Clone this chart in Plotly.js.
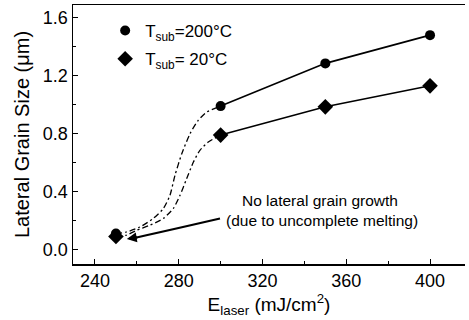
<!DOCTYPE html>
<html>
<head>
<meta charset="utf-8">
<script src="https://cdn.plot.ly/plotly-3.0.1.min.js"></script>
<style>html,body{margin:0;padding:0;background:#fff}#chart{width:469px;height:320px}</style>
</head>
<body>
<div id="chart"></div>
<script>
// Data
const energy = [250, 300, 350, 400];
const size200 = [0.11, 0.99, 1.285, 1.48];
const size20 = [0.09, 0.79, 0.985, 1.13];
// dash-dot guide curves (250 -> 300)
const guide200X = [250, 255.1, 261.5, 267.8, 272.6, 275.8, 278.2, 281.4, 285.4, 289.3, 293.4, 300];
const guide200Y = [0.11, 0.121, 0.156, 0.214, 0.282, 0.374, 0.512, 0.66, 0.80, 0.892, 0.949, 0.99];
const guide20X = [250, 255.1, 259.9, 266.3, 272.6, 277.4, 280.6, 283.8, 287, 290.1, 294.1, 300];
const guide20Y = [0.09, 0.099, 0.133, 0.168, 0.214, 0.283, 0.374, 0.49, 0.604, 0.685, 0.742, 0.79];
const legendNames = ['T<sub>sub</sub>=200°C', 'T<sub>sub</sub>= 20°C'];
const xTicks = [240, 280, 320, 360, 400];
const yTicks = [0.0, 0.4, 0.8, 1.2, 1.6];
const noteLines = ['No lateral grain growth', '(due to uncomplete melting)'];

const FONT = 'Liberation Sans, Arial, Helvetica, sans-serif';
const DASH = '6px,3px,2px,3px';

const traces = [
  {x: guide200X, y: guide200Y, mode: 'lines', line: {color: '#000', width: 1.3, dash: DASH, shape: 'spline', smoothing: 0.6}, showlegend: false, hoverinfo: 'skip'},
  {x: guide20X, y: guide20Y, mode: 'lines', line: {color: '#000', width: 1.3, dash: DASH, shape: 'spline', smoothing: 0.6}, showlegend: false, hoverinfo: 'skip'},
  {x: energy.slice(1), y: size200.slice(1), mode: 'lines', line: {color: '#000', width: 1.6}, showlegend: false},
  {x: energy.slice(1), y: size20.slice(1), mode: 'lines', line: {color: '#000', width: 1.6}, showlegend: false},
  {x: energy, y: size200, mode: 'markers', name: legendNames[0], legendgroup: 'a', marker: {symbol: 'circle', size: 10, color: '#000'}},
  {x: energy, y: size20, mode: 'markers', name: legendNames[1], legendgroup: 'b', marker: {symbol: 'diamond', size: 12, color: '#000'}}
];

const layout = {
  width: 469, height: 320,
  margin: {l: 73, r: 4, t: 5, b: 56},
  paper_bgcolor: '#fff', plot_bgcolor: '#fff',
  font: {family: FONT, color: '#000', size: 18},
  showlegend: true,
  legend: {x: 0.082, y: 0.969, xanchor: 'left', yanchor: 'top', bgcolor: 'rgba(0,0,0,0)', font: {size: 17, family: FONT, color: '#000'}, tracegroupgap: 3, itemwidth: 30},
  xaxis: {
    range: [229.5, 416.7], tickvals: xTicks, ticktext: xTicks.map(String),
    ticks: 'inside', ticklen: 5, tickcolor: '#000', tickwidth: 1,
    minor: {ticks: 'inside', ticklen: 3, dtick: 20, tick0: 240, tickcolor: '#000'},
    showline: true, linecolor: '#000', linewidth: 1.5, mirror: true,
    showgrid: false, zeroline: false,
    tickfont: {size: 18, family: FONT, color: '#000'},
    title: {text: 'E<sub>laser</sub> (mJ/cm<sup>2</sup>)', font: {size: 19, family: FONT, color: '#000'}, standoff: 4}
  },
  yaxis: {
    range: [-0.1, 1.688], tickvals: yTicks, ticktext: yTicks.map(v => v.toFixed(1)),
    ticks: 'inside', ticklen: 5, tickcolor: '#000', tickwidth: 1,
    minor: {ticks: 'inside', ticklen: 3, dtick: 0.2, tick0: 0, tickcolor: '#000'},
    showline: true, linecolor: '#000', linewidth: 1.5, mirror: false,
    showgrid: false, zeroline: false,
    tickfont: {size: 18, family: FONT, color: '#000'},
    title: {text: 'Lateral Grain Size (μm)', font: {size: 20, family: FONT, color: '#000'}, standoff: 8}
  },
  shapes: [
    {type: 'path', xref: 'x', yref: 'y', path: 'M299.7,0.214 Q270,0.115 257.5,0.076', line: {color: '#000', width: 2.2}}
  ],
  annotations: [
    {x: 255.2, y: 0.072, xref: 'x', yref: 'y', ax: 12, ay: -2, showarrow: true, arrowhead: 2, arrowsize: 0.9, arrowwidth: 2.2, arrowcolor: '#000', text: ''},
    {x: 347.5, y: 0.34, xref: 'x', yref: 'y', text: noteLines[0], showarrow: false, font: {size: 15.5, family: FONT, color: '#000'}, xanchor: 'center'},
    {x: 348.6, y: 0.202, xref: 'x', yref: 'y', text: noteLines[1], showarrow: false, font: {size: 15.5, family: FONT, color: '#000'}, xanchor: 'center'}
  ]
};

Plotly.newPlot('chart', traces, layout, {displayModeBar: false, staticPlot: true});
</script>
</body>
</html>
